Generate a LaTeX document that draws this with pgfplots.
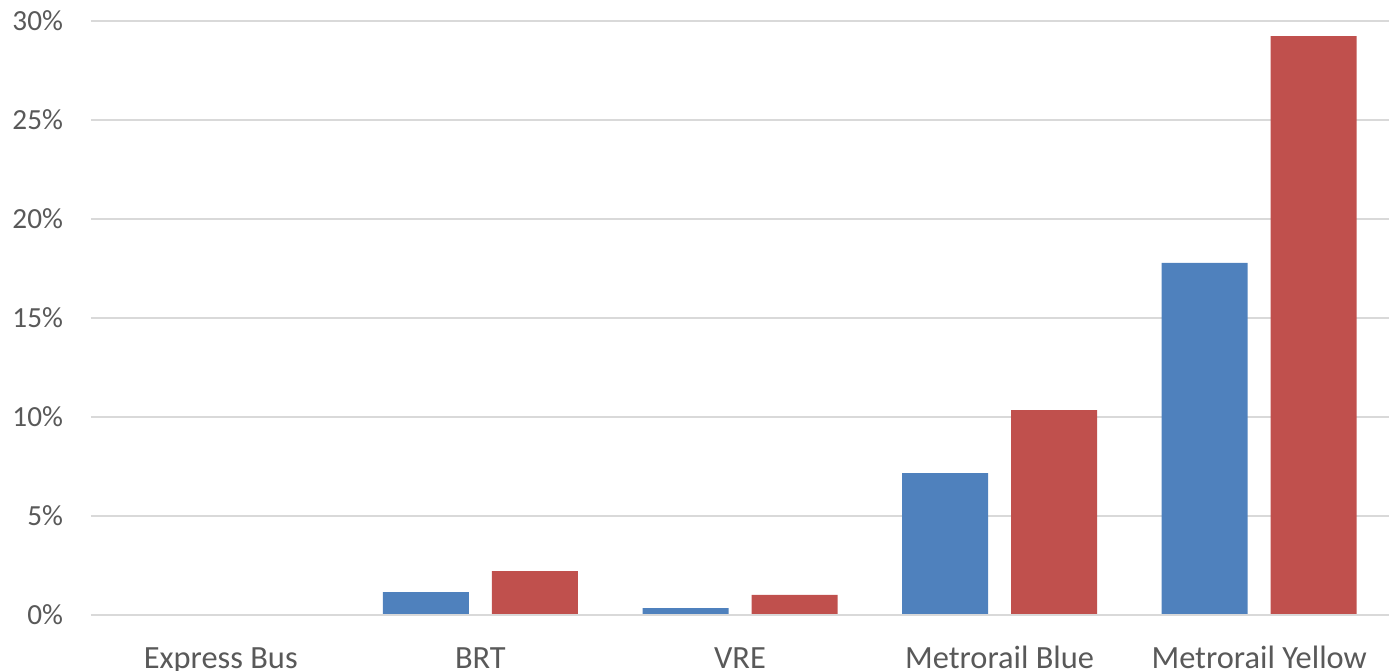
\documentclass[border=0pt]{standalone}
\usepackage{fontspec}
\setmainfont{Carlito}
\usepackage{pgfplots}
\pgfplotsset{compat=1.18}
\definecolor{xlblue}{HTML}{4F81BD}
\definecolor{xlred}{HTML}{C0504D}
\definecolor{gridgray}{HTML}{D9D9D9}
\definecolor{txtgray}{HTML}{595959}
\begin{document}
\begin{tikzpicture}
\begin{axis}[
  scale only axis,
  width=649pt, height=297pt,
  ymin=0, ymax=30,
  xmin=-0.5, xmax=4.5,
  ybar, bar width=43pt,
  axis line style={draw=none},
  tick style={draw=none},
  ymajorgrids, grid style={gridgray, line width=0.75pt},
  ytick={0,5,10,15,20,25,30},
  yticklabel={\pgfmathprintnumber{\tick}\%},
  /pgf/number format/assume math mode=true,
  xtick=data,
  xticklabels={Express Bus, BRT, VRE, Metrorail Blue, Metrorail Yellow},
  yticklabel style={font=\fontsize{14.6pt}{16pt}\selectfont, text=txtgray, xshift=-10.5pt},
  xticklabel style={font=\fontsize{16.2pt}{18pt}\selectfont, text=txtgray, anchor=base, yshift=-22.5pt},
  clip=false,
]
\addplot[fill=xlblue, draw=none, bar shift=-27.25pt] coordinates {(0,0) (1,1.16) (2,0.35) (3,7.17) (4,17.78)};
\addplot[fill=xlred, draw=none, bar shift=27.25pt] coordinates {(0,0) (1,2.22) (2,1.01) (3,10.35) (4,29.24)};
\draw[gridgray, line width=0.75pt] (rel axis cs:0,0) -- (rel axis cs:1,0);
\end{axis}
\pgfresetboundingbox
\path ([shift={(-45.5pt,-28pt)}]current axis.south west) rectangle ([shift={(1pt,10.5pt)}]current axis.north east);
\end{tikzpicture}
\end{document}
